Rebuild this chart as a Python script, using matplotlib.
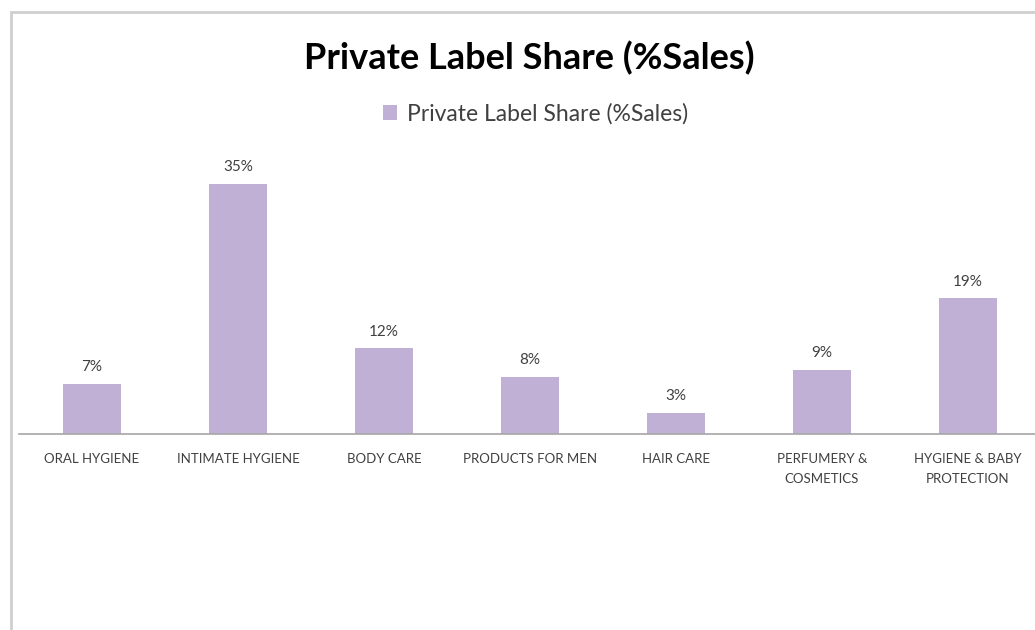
import matplotlib
matplotlib.use("Agg")
import matplotlib.pyplot as plt
from matplotlib.patches import Rectangle

categories = ["ORAL HYGIENE", "INTIMATE HYGIENE", "BODY CARE", "PRODUCTS FOR MEN",
              "HAIR CARE", "PERFUMERY &\nCOSMETICS", "HYGIENE & BABY\nPROTECTION"]
values = [7, 35, 12, 8, 3, 9, 19]
series_name = "Private Label Share (%Sales)"
title = "Private Label Share (%Sales)"

W, H = 1035, 630
fig = plt.figure(figsize=(W / 100, H / 100), dpi=100)
plt.rcParams['font.family'] = ['Lato', 'DejaVu Sans']

# outer chart border (cropped at right/bottom)
fig.patches.append(Rectangle((11 / W, -0.1), 1.2, 1 - 12 / H + 0.1, transform=fig.transFigure,
                             fill=False, edgecolor="#cfcfcf", linewidth=2))

px_per_unit = 250 / 35
bottom = 434
ymax = 40
ax_h = ymax * px_per_unit
left_px = 19
right_px = 1041
ax = fig.add_axes([left_px / W, 1 - bottom / H, (right_px - left_px) / W, ax_h / H])
ax.set_facecolor("none")
x = list(range(len(categories)))
bars = ax.bar(x, values, width=58 / 146, color="#c0b0d5", label=series_name, zorder=2)
ax.set_xlim(-0.5, len(categories) - 0.5)
ax.set_ylim(0, ymax)
for s in ["top", "right", "left"]:
    ax.spines[s].set_visible(False)
ax.spines["bottom"].set_color("#a6a6a6")
ax.spines["bottom"].set_linewidth(1.2)
ax.set_yticks([])
ax.set_xticks(x)
ax.set_xticklabels(categories, fontsize=9.5, color="#404040", linespacing=1.75)
ax.tick_params(axis="x", length=0, pad=14)
for xi, v in zip(x, values):
    ax.annotate(f"{v}%", (xi, v), xytext=(0, 7), textcoords="offset points",
                ha="center", va="bottom", fontsize=11, color="#404040")

fig.text(529 / W, 1 - 58 / H, title, ha="center", va="center", fontsize=26,
         fontweight="bold", color="#000000")
leg = fig.legend(handles=[bars], labels=[series_name], loc="center",
                 bbox_to_anchor=(536 / W, 1 - 114 / H), frameon=False, fontsize=16.5,
                 handlelength=0.6, handleheight=0.6, handletextpad=0.45,
                 labelcolor="#404040")

fig.savefig("out.png", dpi=100, facecolor="white")
